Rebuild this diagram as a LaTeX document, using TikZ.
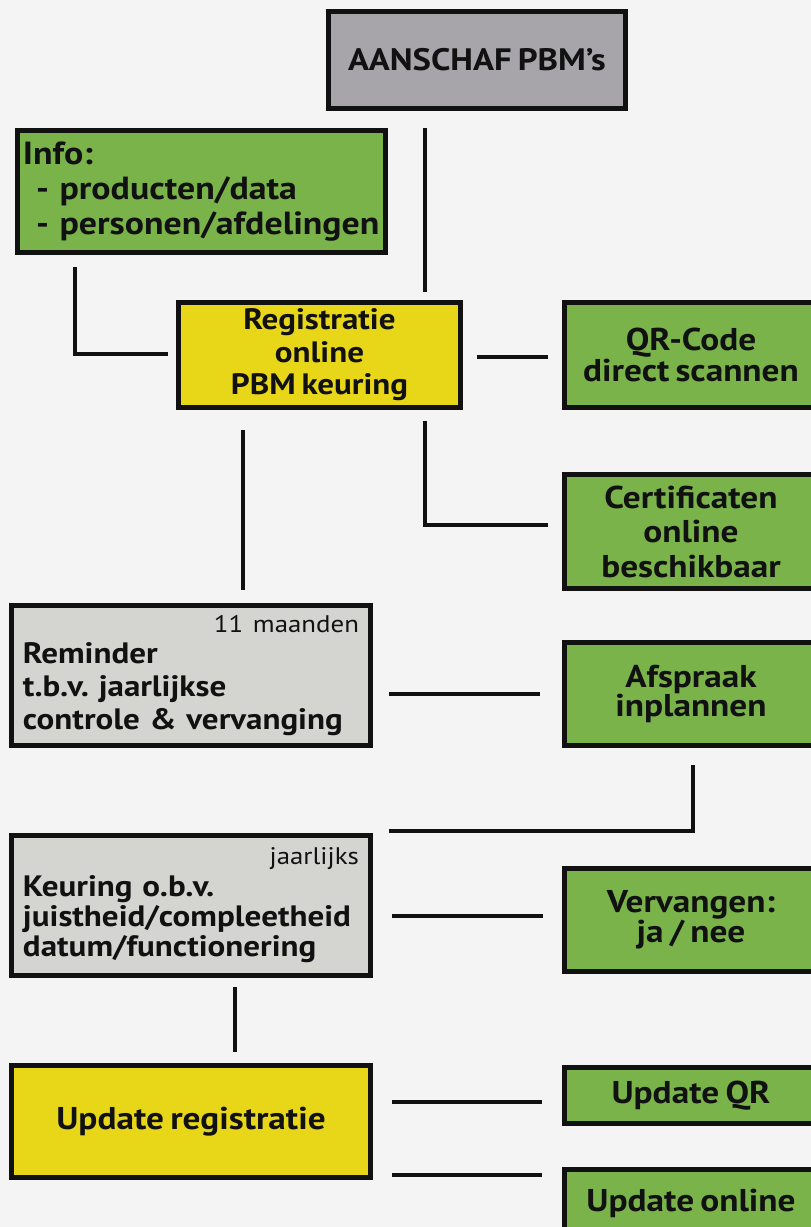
\documentclass[tikz,border=0pt]{standalone}
\usepackage{fontspec}
\setmainfont{PT Sans}[FakeStretch=1.12, WordSpace=0.7]
\frenchspacing
\definecolor{pagebg}{HTML}{F4F4F4}
\definecolor{boxline}{HTML}{111111}
\definecolor{pbmgray}{HTML}{A7A5AA}
\definecolor{pbmlight}{HTML}{D4D4D0}
\definecolor{pbmgreen}{HTML}{79B34A}
\definecolor{pbmyellow}{HTML}{E8D618}

\tikzset{
  box/.style={draw=boxline, line width=5pt, inner sep=0pt, text=boxline,
    font=\bfseries\fontsize{31.5}{33}\selectfont, align=center},
  tight/.style={font=\bfseries\fontsize{31.5}{25}\selectfont},
  greenbox/.style={box, fill=pbmgreen, minimum width=253pt},
  yellowbox/.style={box, fill=pbmyellow},
  lightbox/.style={box, fill=pbmlight, minimum width=359pt, minimum height=140pt,
    align=left, text width=336pt},
  link/.style={draw=boxline, line width=3.5pt}
}
\newcommand{\corner}[1]{\hfill{\mdseries\fontsize{24}{26}\selectfont #1}\hspace*{9pt}}

\begin{document}
\begin{tikzpicture}[x=1pt,y=-1pt]
  \fill[pagebg] (0,0) rectangle (811,1227);
  \useasboundingbox (0,0) rectangle (811,1227);

  % boxes
  \node[box, fill=pbmgray, minimum width=297pt, minimum height=97pt, font=\bfseries\fontsize{31}{33}\selectfont] (aanschaf) at (477,60) {AANSCHAF PBM’s};
  \node[box, fill=pbmgreen, minimum width=368pt, minimum height=122pt, align=left, text width=357pt,
    font=\bfseries\fontsize{32}{35}\selectfont] (info) at (201.5,191.5)
    {Info:\\\hspace*{13pt}- producten/data\\\hspace*{13pt}- personen/afdelingen};
  \node[yellowbox, minimum width=282pt, minimum height=105pt, font=\bfseries\fontsize{29.5}{32.5}\selectfont] (registratie) at (319.5,355)
    {Registratie\\online\\PBM keuring};
  \node[greenbox, tight, minimum height=105pt] (qrcode) at (691,355) {QR-Code\\direct scannen};
  \node[greenbox, minimum height=114pt, font=\bfseries\fontsize{31.5}{34.5}\selectfont] (certificaten) at (691,531.5)
    {Certificaten\\online\\beschikbaar};

  \node[lightbox, font=\bfseries\fontsize{29.5}{33}\selectfont] (reminder) at (191,675.5)
    {\corner{11 maanden}\\[-2pt]Reminder\\t.b.v. jaarlijkse\\controle \& vervanging};
  \node[greenbox, tight, minimum height=103pt] (afspraak) at (691,694) {Afspraak\\inplannen};

  \node[lightbox, font=\bfseries\fontsize{29.5}{30}\selectfont] (keuring) at (191,905)
    {\corner{jaarlijks}\\[2pt]Keuring o.b.v.\\juistheid/compleetheid\\datum/functionering};
  \node[greenbox, tight, minimum height=103pt] (vervangen) at (691,920) {Vervangen:\\ja / nee};

  \node[yellowbox, minimum width=359pt, minimum height=112pt] (updatereg) at (191,1121.5) {Update registratie};
  \node[greenbox, minimum height=56pt] (updateqr) at (691,1095.5) {Update QR};
  \node[greenbox, minimum height=67pt] (updateonline) at (691,1203) {Update online};

  % free ends of the connectors
  \coordinate (aanschafdown) at (425,128);
  \coordinate (regup) at (425,292);
  \coordinate (infodown) at (75,267);
  \coordinate (regdown) at (243,430);
  \coordinate (reminderup) at (243,590);
  \coordinate (certfrom) at (425,421);
  \coordinate (certto) at (548,525);
  \coordinate (afspraakdown) at (693,765);
  \coordinate (keuringto) at (389,831);
  \coordinate (keuringright) at (392,916);
  \coordinate (vervangenleft) at (543,916);
  \coordinate (keuringdown) at (235,987);
  \coordinate (updateup) at (235,1052);
  \coordinate (updateright) at (392,1175);
  \coordinate (onlineleft) at (542,1175);

  % connectors
  \draw[link] (aanschafdown) -- (regup);
  \draw[link] (infodown) |- ([xshift=-8pt,yshift=1pt]registratie.west);
  \draw[link] ([xshift=14pt,yshift=-2pt]registratie.east) -- ([xshift=-14pt,yshift=-2pt]qrcode.west);
  \draw[link] (regdown) -- (reminderup);
  \draw[link] (certfrom) |- (certto);
  \draw[link] ([xshift=16pt]reminder.east |- afspraak.west) -- ([xshift=-22pt]afspraak.west);
  \draw[link] (afspraakdown) |- (keuringto);
  \draw[link] (keuringright) -- (vervangenleft);
  \draw[link] (keuringdown) -- (updateup);
  \draw[link] ([xshift=19pt,yshift=-6.5pt]updatereg.east |- updateqr.west) -- ([xshift=-20pt,yshift=-6.5pt]updateqr.west);
  \draw[link] (updateright) -- (onlineleft);
\end{tikzpicture}
\end{document}
